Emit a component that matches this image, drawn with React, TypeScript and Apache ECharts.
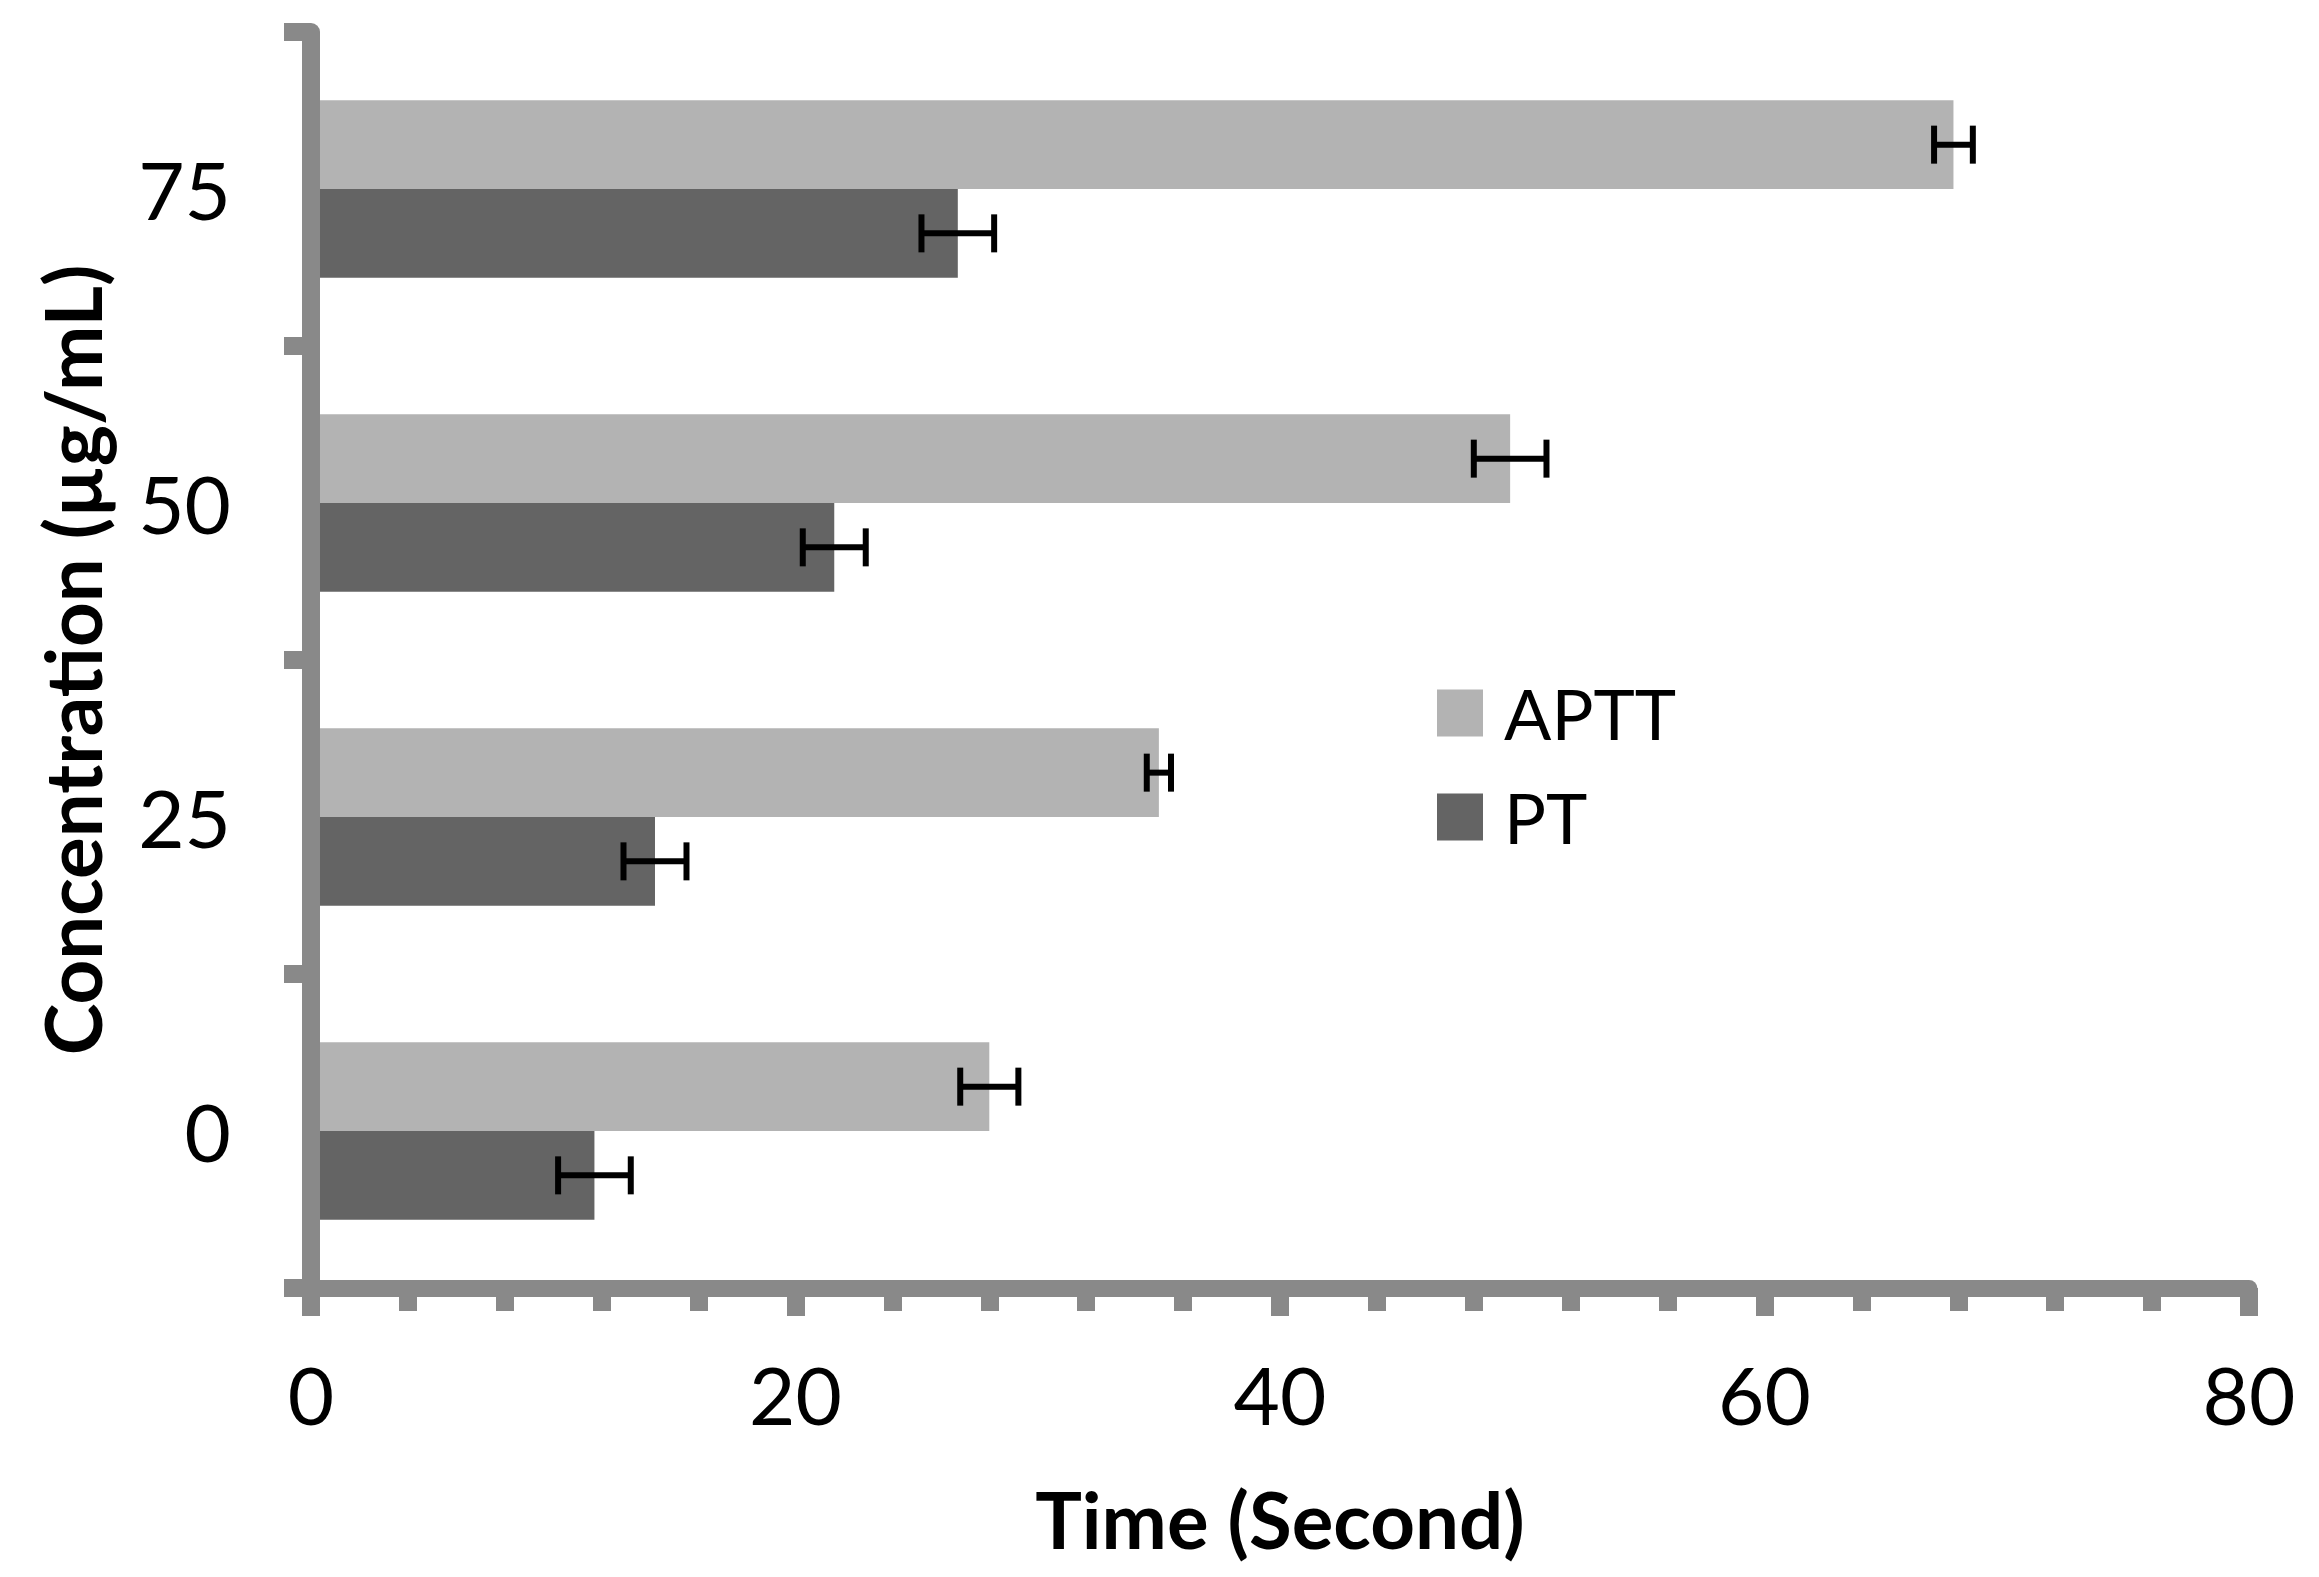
import React, { useEffect, useRef } from "react";
import * as echarts from "echarts";

const categories = ["0", "25", "50", "75"];
const seriesNames = ["APTT", "PT"];
const apttValues = [28.0, 35.0, 49.5, 67.8];
const ptValues = [11.7, 14.2, 21.6, 26.7];
const apttErrors = [1.2, 0.5, 1.5, 0.8];
const ptErrors = [1.5, 1.3, 1.3, 1.5];
const xMin = 0;
const xMax = 80;
const xInterval = 20;

const AXIS_COLOR = "#898989";
const APTT_COLOR = "#b3b3b3";
const PT_COLOR = "#646464";
const CAT_GAP = 0.435;
const FONT = "Lato, 'Open Sans', sans-serif";

function makeErrorRenderer(sign: number) {
  return (params: any, api: any) => {
    const v = api.value(0);
    const c = api.value(1);
    const e = api.value(2);
    const center = api.coord([v, c]);
    const band = api.size([0, 1])[1];
    const barW = (band * (1 - CAT_GAP)) / 2;
    const y = center[1] + (sign * barW) / 2;
    const lo = api.coord([v - e, c])[0];
    const hi = api.coord([v + e, c])[0];
    const cap = 19;
    const style = { stroke: "#000", lineWidth: 6 };
    return {
      type: "group",
      children: [
        { type: "line", shape: { x1: lo, y1: y, x2: hi, y2: y }, style },
        { type: "line", shape: { x1: lo, y1: y - cap, x2: lo, y2: y + cap }, style },
        { type: "line", shape: { x1: hi, y1: y - cap, x2: hi, y2: y + cap }, style },
      ],
    };
  };
}

export default function App() {
  const ref = useRef<HTMLDivElement>(null);
  useEffect(() => {
    if (!ref.current) return;
    const chart = echarts.init(ref.current, undefined, { renderer: "svg" });
    chart.setOption({
      animation: false,
      backgroundColor: "#ffffff",
      grid: { left: 311, top: 32, width: 1938, height: 1256, containLabel: false },
      legend: {
        data: seriesNames,
        orient: "vertical",
        left: 1432,
        top: 673,
        itemWidth: 46,
        itemHeight: 47,
        itemGap: 34,
        icon: "rect",
        textStyle: {
          fontFamily: FONT,
          fontSize: 70,
          color: "#000",
          lineHeight: 47,
          padding: [0, 0, 0, 16],
        },
      },
      xAxis: {
        type: "value",
        min: xMin,
        max: xMax,
        interval: xInterval,
        z: 5,
        name: "Time (Second)",
        nameLocation: "middle",
        nameGap: 192,
        nameTextStyle: { fontFamily: FONT, fontSize: 78, fontWeight: "bold", color: "#000" },
        axisLine: { show: true, lineStyle: { color: AXIS_COLOR, width: 17 } },
        axisTick: { show: true, length: 28, lineStyle: { color: AXIS_COLOR, width: 18 } },
        minorTick: { show: true, splitNumber: 5, length: 23, lineStyle: { color: AXIS_COLOR, width: 18 } },
        splitLine: { show: false },
        axisLabel: { fontFamily: FONT, fontSize: 80, color: "#000", margin: 66 },
      },
      yAxis: {
        type: "category",
        data: categories,
        z: 5,
        name: "Concentration (µg/mL)",
        nameLocation: "middle",
        nameGap: 200,
        nameRotate: 90,
        nameTextStyle: { fontFamily: FONT, fontSize: 78, fontWeight: "bold", color: "#000" },
        axisLine: { show: true, lineStyle: { color: AXIS_COLOR, width: 18 } },
        axisTick: { show: true, length: 27, lineStyle: { color: AXIS_COLOR, width: 18 } },
        axisLabel: { fontFamily: FONT, fontSize: 80, color: "#000", margin: 80 },
      },
      series: [
        {
          name: "APTT",
          type: "bar",
          data: apttValues,
          itemStyle: { color: APTT_COLOR },
          barGap: "0%",
          barCategoryGap: (CAT_GAP * 100).toFixed(1) + "%",
        },
        {
          name: "PT",
          type: "bar",
          data: ptValues,
          itemStyle: { color: PT_COLOR },
          barGap: "0%",
          barCategoryGap: (CAT_GAP * 100).toFixed(1) + "%",
        },
        {
          name: "APTT err",
          type: "custom",
          z: 10,
          renderItem: makeErrorRenderer(-1),
          encode: { x: 0, y: 1 },
          data: apttValues.map((v, i) => [v, i, apttErrors[i]]),
        },
        {
          name: "PT err",
          type: "custom",
          z: 10,
          renderItem: makeErrorRenderer(1),
          encode: { x: 0, y: 1 },
          data: ptValues.map((v, i) => [v, i, ptErrors[i]]),
        },
      ],
    });
    return () => chart.dispose();
  }, []);
  return (
    <div
      ref={ref}
      style={{ position: "fixed", left: 0, top: 0, width: "2319px", height: "1577px", background: "#fff" }}
    />
  );
}
